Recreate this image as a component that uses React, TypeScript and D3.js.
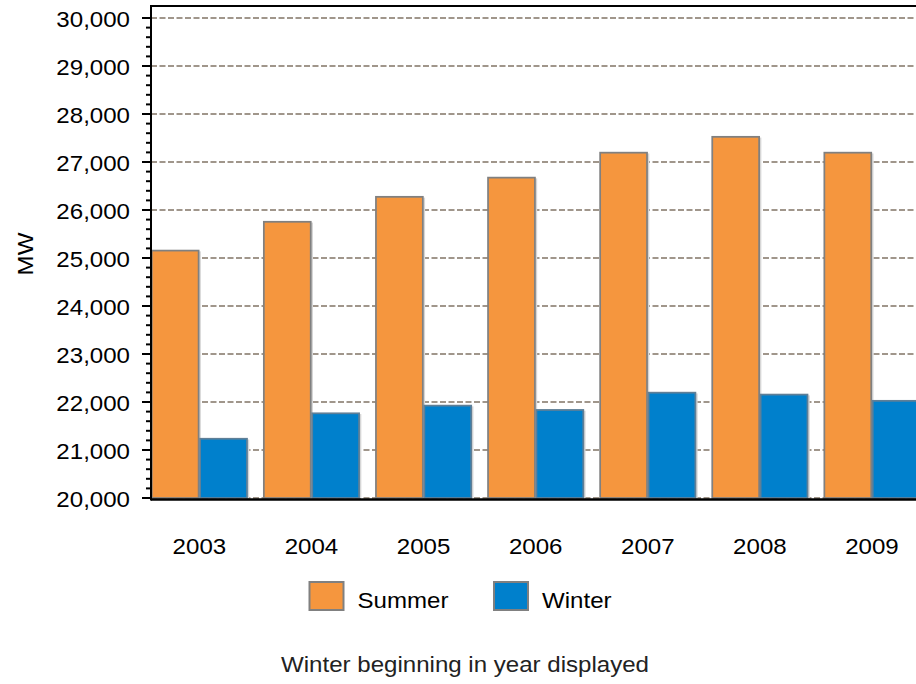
import React, { useRef, useEffect } from "react";
import * as d3 from "d3";

const years = ["2003", "2004", "2005", "2006", "2007", "2008", "2009"];
const summerMW = [25170, 25770, 26290, 26690, 27210, 27540, 27210];
const winterMW = [21250, 21780, 21940, 21850, 22210, 22170, 22040];
const seriesNames = ["Summer", "Winter"];
const seriesColors = ["#F5963E", "#0080CC"];
const seriesStrokes = ["#808080", "#5f7f97"];
const yTicks = [20000, 21000, 22000, 23000, 24000, 25000, 26000, 27000, 28000, 29000, 30000];

const FONT = "'Liberation Sans', Arial, sans-serif";
const FS = 22.5;
const SX = 1.07; // the source font renders a bit wider than Arial

const PeakLoadChart = () => {
    const svgRef = useRef(null);

    useEffect(() => {
        const width = 916;
        const height = 684;
        const left = 151;
        const top = 18;
        const bottom = 498;

        const svg = d3.select(svgRef.current).attr("width", width).attr("height", height);
        svg.selectAll("*").remove();

        const y = d3.scaleLinear().domain([20000, 30000]).range([bottom, top]);
        const x = d3
            .scaleBand()
            .domain(years)
            .range([left, left + 7 * 112.1])
            .paddingInner(0.137)
            .paddingOuter(0.0685)
            .align(0);
        const xs = d3.scaleBand().domain(seriesNames).range([0, x.bandwidth()]);

        // gridlines
        svg.append("g")
            .selectAll("line")
            .data(yTicks)
            .enter()
            .append("line")
            .attr("x1", left)
            .attr("x2", width)
            .attr("y1", (d) => y(d))
            .attr("y2", (d) => y(d))
            .attr("stroke", "#a0968b")
            .attr("stroke-width", 2)
            .attr("stroke-dasharray", "6,2.5");

        // bars
        const rows = years.map((yr, i) => ({ year: yr, values: [summerMW[i], winterMW[i]] }));
        const groups = svg
            .append("g")
            .selectAll("g")
            .data(rows)
            .enter()
            .append("g")
            .attr("transform", (d) => `translate(${x(d.year)},0)`);

        const bars = groups
            .selectAll("g")
            .data((d) => d.values.map((v, k) => ({ v, k })))
            .enter()
            .append("g");

        bars.append("rect")
            .attr("x", (d) => (xs(seriesNames[d.k]) as number) + 1.5)
            .attr("y", (d) => y(d.v) + 1.5)
            .attr("width", xs.bandwidth())
            .attr("height", (d) => bottom - y(d.v) - 1.5)
            .attr("fill", "#d6d6d6");

        bars.append("rect")
            .attr("x", (d) => (xs(seriesNames[d.k]) as number) + 0.75)
            .attr("y", (d) => y(d.v) + 0.75)
            .attr("width", xs.bandwidth() - 1.5)
            .attr("height", (d) => bottom - y(d.v) - 0.75)
            .attr("fill", (d) => seriesColors[d.k])
            .attr("stroke", (d) => seriesStrokes[d.k])
            .attr("stroke-width", 1.75);

        // frame
        svg.append("line")
            .attr("x1", left).attr("x2", width).attr("y1", 6).attr("y2", 6)
            .attr("stroke", "#000").attr("stroke-width", 2.2);
        svg.append("line")
            .attr("x1", left).attr("x2", width).attr("y1", bottom + 1.5).attr("y2", bottom + 1.5)
            .attr("stroke", "#000").attr("stroke-width", 2.5);
        svg.append("line")
            .attr("x1", left).attr("x2", left).attr("y1", 5).attr("y2", bottom + 2.5)
            .attr("stroke", "#000").attr("stroke-width", 2);

        // y ticks (major + minor)
        const minor = d3.range(20000, 30001, 200).filter((v) => v % 1000 !== 0);
        svg.append("g")
            .selectAll("line")
            .data(minor)
            .enter()
            .append("line")
            .attr("x1", 146).attr("x2", 150)
            .attr("y1", (d) => y(d)).attr("y2", (d) => y(d))
            .attr("stroke", "#000").attr("stroke-width", 2);
        svg.append("g")
            .selectAll("line")
            .data(yTicks)
            .enter()
            .append("line")
            .attr("x1", 142).attr("x2", 151)
            .attr("y1", (d) => y(d)).attr("y2", (d) => y(d))
            .attr("stroke", "#000").attr("stroke-width", 2);

        const fmt = d3.format(",");
        svg.append("g")
            .selectAll("text")
            .data(yTicks)
            .enter()
            .append("text")
            .attr("transform", (d) => `translate(130,${y(d) + 8.5}) scale(${SX},1)`)
            .attr("text-anchor", "end")
            .attr("font-family", FONT)
            .attr("font-size", FS)
            .attr("fill", "#000")
            .text((d) => fmt(d));

        // x labels
        svg.append("g")
            .selectAll("text")
            .data(years)
            .enter()
            .append("text")
            .attr("transform", (d) => `translate(${(x(d) as number) + x.bandwidth() / 2},554) scale(${SX},1)`)
            .attr("text-anchor", "middle")
            .attr("font-family", FONT)
            .attr("font-size", FS)
            .attr("fill", "#000")
            .text((d) => d);

        // axis title
        svg.append("text")
            .attr("transform", `translate(33,254) rotate(-90) scale(${SX},1)`)
            .attr("text-anchor", "middle")
            .attr("font-family", FONT)
            .attr("font-size", FS)
            .attr("fill", "#000")
            .text("MW");

        // legend
        const legendX = [309.5, 494];
        const legend = svg
            .append("g")
            .selectAll("g")
            .data(seriesNames)
            .enter()
            .append("g")
            .attr("transform", (d, i) => `translate(${legendX[i]},582)`);
        legend.append("rect")
            .attr("width", 34)
            .attr("height", 28)
            .attr("fill", (d, i) => seriesColors[i])
            .attr("stroke", "#808080")
            .attr("stroke-width", 2);
        legend.append("text")
            .attr("transform", `translate(48,25.5) scale(${SX},1)`)
            .attr("font-family", FONT)
            .attr("font-size", FS)
            .attr("fill", "#000")
            .text((d) => d);

        // footnote
        svg.append("text")
            .attr("transform", `translate(465,672) scale(${SX},1)`)
            .attr("text-anchor", "middle")
            .attr("font-family", FONT)
            .attr("font-size", FS)
            .attr("fill", "#222")
            .text("Winter beginning in year displayed");
    }, []);

    return <svg ref={svgRef} style={{ position: "absolute", left: 0, top: 0, background: "#fff" }}></svg>;
};

export default function App() {
    return <PeakLoadChart />;
}
